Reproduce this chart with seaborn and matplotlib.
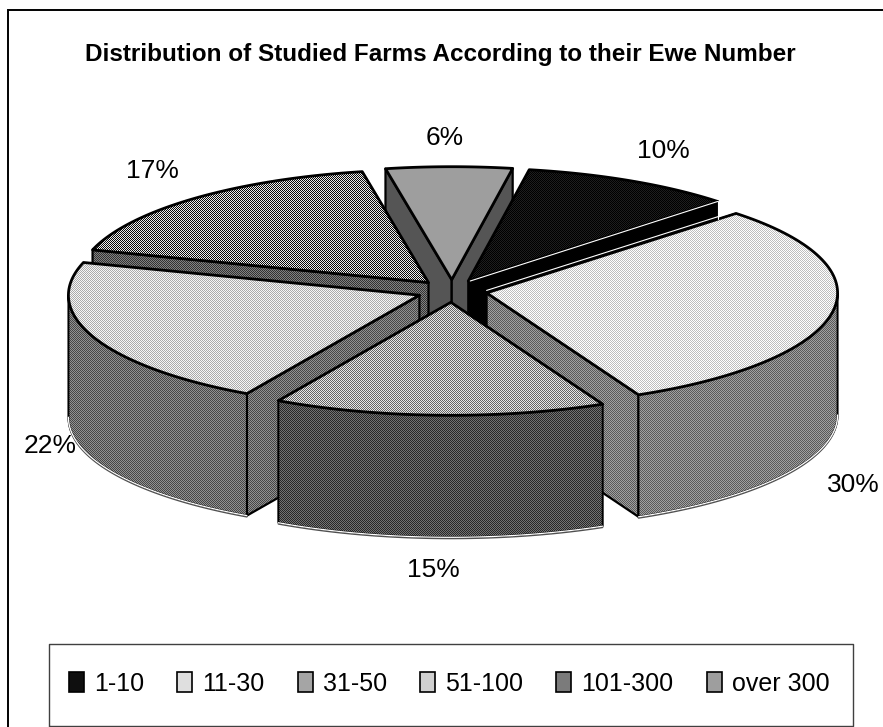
import numpy as np
import matplotlib
matplotlib.use("Agg")
import matplotlib.pyplot as plt
from matplotlib.patches import Patch, Polygon
import seaborn as sns

categories = ['1-10', '11-30', '31-50', '51-100', '101-300', 'over 300']
shares = [9.8, 30.3, 15.3, 21.5, 17.3, 5.8]

# each surface is a two-tone 1px dither, like the old office printout
top_shades = [(0, 30), (190, 255), (100, 230), (170, 245), (10, 235), (158, 158)]
side_shades = [(0, 0), (90, 160), (40, 115), (70, 145), (50, 130), (85, 85)]

sns.set_theme(style='white')
plt.rcParams['font.family'] = ['Liberation Sans']

W, H = 883, 727
fig = plt.figure(figsize=(W / 100, H / 100), dpi=100)
ax = fig.add_axes([0, 0, 1, 1])
ax.set_xlim(0, W)
ax.set_ylim(H, 0)
ax.axis('off')

# pie geometry in pixels, angles clockwise from north
cx, cy = 452, 291
rx, ry = 351, 113
depth = 122
explode = 0.1
start_angle = 10

yy, xx = np.indices((H, W))
checker = (xx + yy) % 2 == 0


def rim(apex, a):
    t = np.radians(a)
    return np.column_stack([apex[0] + rx * np.sin(t), apex[1] - ry * np.cos(t)])


def surface(points, shade, lw=1.8):
    # dithered fill clipped to the polygon, then the black outline on top
    lo, hi = shade
    im = ax.imshow(np.where(checker, lo, hi), cmap='gray', vmin=0, vmax=255, extent=(0, W, H, 0),
                   interpolation='nearest', aspect='auto', zorder=2)
    clip = Polygon(points, closed=True, transform=ax.transData)
    im.set_clip_path(clip)
    ax.add_patch(Polygon(points, closed=True, fc='none', ec='black', lw=lw, joinstyle='round', zorder=2))


def draw_slice(start, end, top, side):
    mid = np.radians((start + end) / 2)
    apex = np.array([cx + explode * rx * np.sin(mid), cy - explode * ry * np.cos(mid)])
    edge = rim(apex, np.linspace(start, end, 80))
    down = np.array([0, depth])

    # radial faces, only the ones turned to the viewer
    p_start, p_end = rim(apex, [start, end])
    if np.sin(np.radians(start)) < 0:
        surface([apex, p_start, p_start + down, apex + down], side, lw=1.6)
    if np.sin(np.radians(end)) > 0:
        surface([apex, p_end, p_end + down, apex + down], side, lw=1.6)

    # outer wall, front half only
    lo, hi = max(start, 90), min(end, 270)
    if hi > lo:
        front = rim(apex, np.linspace(lo, hi, 80))
        surface(np.vstack([front, (front + down)[::-1]]), side, lw=1.4)
        # light bottom edge with a dark line under it
        ax.plot(front[:, 0], front[:, 1] + depth + 1.3, color='#505050', lw=1.0, zorder=2)
        ax.plot(front[:, 0], front[:, 1] + depth, color='white', lw=0.9, zorder=2)

    surface(np.vstack([[apex], edge]), top, lw=2.0)
    return apex, p_start, p_end


# back slices first, so the nearer ones cover them
bounds = start_angle + np.cumsum([0] + shares) * 3.6
mids = (bounds[:-1] + bounds[1:]) / 2
corners = {}
for i in np.argsort(np.cos(np.radians(mids)))[::-1]:
    corners[i] = draw_slice(bounds[i], bounds[i + 1], top_shades[i], side_shades[i])

# white highlights along the black slice
apex, _, p_end = corners[0]
ax.plot([apex[0] + 2, p_end[0]], [apex[1], p_end[1]], color='white', lw=0.8, zorder=2)
ax.plot([p_end[0], p_end[0]], [p_end[1], p_end[1] + 18], color='white', lw=0.8, zorder=2)
apex, p_start, _ = corners[1]
ax.plot([apex[0], p_start[0]], [apex[1] - 2.5, p_start[1] - 2.5], color='white', lw=0.8, zorder=2)

ax.set_xlim(0, W)
ax.set_ylim(H, 0)

# percent labels
label_pos = [(663, 151), (853, 485), (433, 570), (50, 446), (152, 171), (445, 138)]
for share, (x, y) in zip(shares, label_pos):
    ax.text(x, y, f'{share:.0f}%', ha='center', va='center', fontsize=19, color='black')

ax.text(440, 55, 'Distribution of Studied Farms According to their Ewe Number', ha='center',
        va='center', fontsize=17.5, fontweight='bold', color='black')

# chart border runs off the right and bottom of the picture
ax.plot([8, 8, W], [H, 10, 10], color='black', lw=1.4, solid_joinstyle='miter', zorder=1)

handles = [Patch(fc=str(np.mean(c) / 255), ec='black', lw=1.2) for c in top_shades]
leg = ax.legend(handles, categories, loc='center', bbox_to_anchor=(449 / W, 1 - 684 / H),
                ncol=6, frameon=False, fontsize=18, handlelength=0.6, handleheight=0.85,
                handletextpad=0.4, columnspacing=1.33, borderpad=0)
for t in leg.get_texts():
    t.set_color('black')
ax.plot([48.5, 48.5, 853, 853, 48.5], [726, 644, 644, 726, 726], color='#404040', lw=1.0, zorder=1)

fig.savefig('out.png', dpi=100, facecolor='white')
